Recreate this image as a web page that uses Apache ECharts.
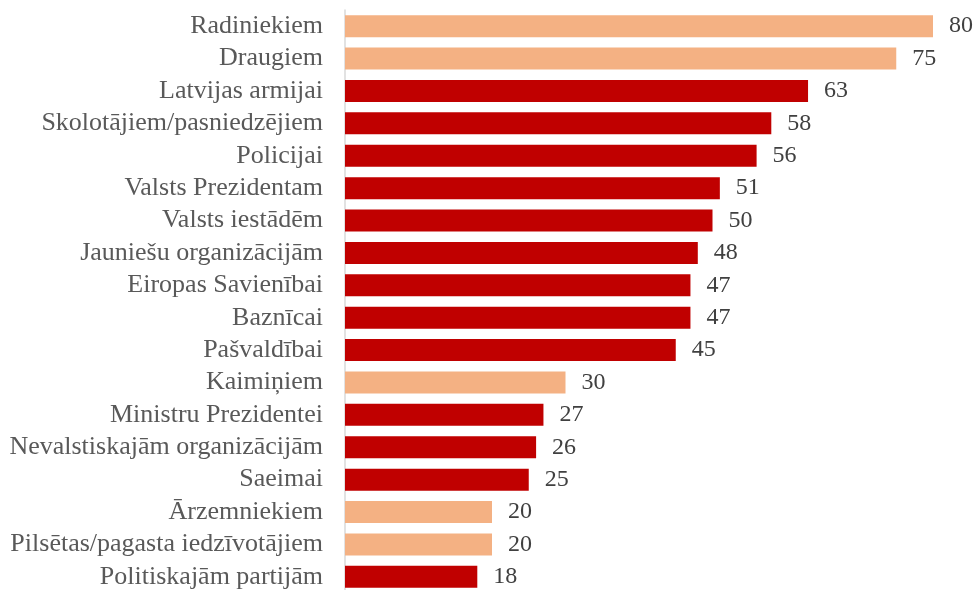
<!DOCTYPE html>
<html><head><meta charset="utf-8">
<script src="https://cdn.jsdelivr.net/npm/echarts@6/dist/echarts.min.js"></script>
<style>html,body{margin:0;padding:0;background:#fff;overflow:hidden}#c{width:976px;height:596px}</style>
</head><body><div id="c"></div>
<script>
const categories = ["Radiniekiem","Draugiem","Latvijas armijai","Skolotājiem/pasniedzējiem","Policijai","Valsts Prezidentam","Valsts iestādēm","Jauniešu organizācijām","Eiropas Savienībai","Baznīcai","Pašvaldībai","Kaimiņiem","Ministru Prezidentei","Nevalstiskajām organizācijām","Saeimai","Ārzemniekiem","Pilsētas/pagasta iedzīvotājiem","Politiskajām partijām"];
const values = [80,75,63,58,56,51,50,48,47,47,45,30,27,26,25,20,20,18];
const highlighted = [true,true,false,false,false,false,false,false,false,false,false,true,false,false,false,true,true,false];
const LIGHT = '#F4B183', DARK = '#C00000';
const FONT = 'Liberation Serif';
const chart = echarts.init(document.getElementById('c'), null, {renderer:'canvas'});
chart.setOption({
  animation:false,
  grid:{left:345, right:43, top:10, bottom:3, containLabel:false},
  xAxis:{type:'value', min:0, max:80, show:false},
  yAxis:{type:'category', inverse:true, data:categories,
    axisLine:{show:true, lineStyle:{color:'#D9D9D9', width:1.5}},
    axisTick:{show:false},
    axisLabel:{interval:0, hideOverlap:false, color:'#595959', fontFamily:FONT, fontSize:26, lineHeight:26, margin:22}},
  series:[{type:'bar', barWidth:22,
    data: values.map((v,i)=>({value:v, itemStyle:{color: highlighted[i]?LIGHT:DARK}})),
    label:{show:true, position:'right', distance:16, color:'#404040', fontFamily:FONT, fontSize:24}}]
});
</script></body></html>
